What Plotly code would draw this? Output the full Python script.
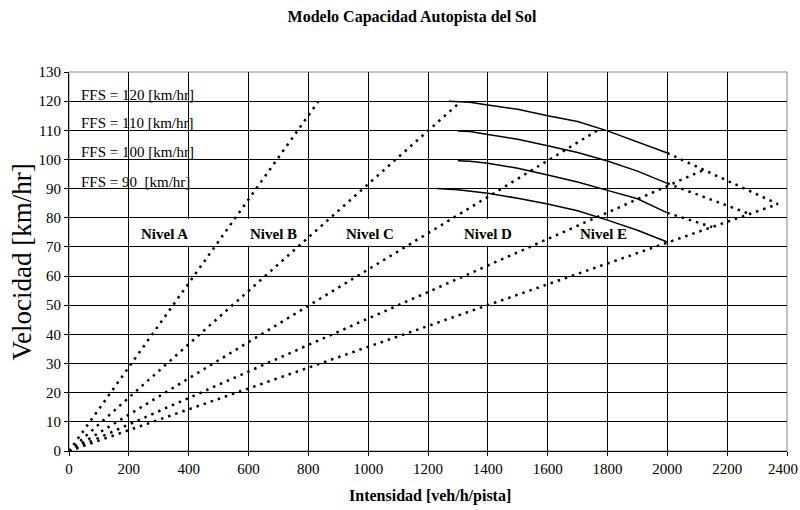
import plotly.graph_objects as go

# ---- data ----
ffs120_q = [1270, 1340, 1400, 1500, 1600, 1700, 1800, 1900, 2000]
ffs120_v = [120.0, 119.6, 118.7, 117.2, 115.0, 113.0, 109.8, 106.1, 102.2]
ffs110_q = [1300, 1340, 1400, 1500, 1600, 1700, 1800, 1900, 2000]
ffs110_v = [109.8, 109.6, 108.6, 106.9, 104.7, 102.4, 99.5, 96.0, 91.8]
ffs100_q = [1300, 1340, 1400, 1500, 1600, 1700, 1800, 1900, 2000]
ffs100_v = [99.6, 99.4, 98.7, 97.0, 94.7, 92.3, 89.4, 86.5, 81.7]
ffs90_q = [1230, 1300, 1400, 1500, 1600, 1700, 1800, 1900, 2000]
ffs90_v = [90.0, 89.6, 88.4, 86.7, 84.7, 82.4, 79.2, 75.7, 71.7]

# dotted extensions of the speed-flow curves beyond 2000
ext120_q = [2000, 2370]
ext120_v = [102.2, 84.7]
ext110_q = [2000, 2275]
ext110_v = [91.8, 81.3]
ext100_q = [2000, 2150]
ext100_v = [81.7, 76.8]

# level-of-service boundary lines (from origin)
losA_q = [0, 833]
losA_v = [0, 119.8]
losB_q = [0, 1300]
losB_v = [0, 119.0]
losC_q = [0, 1775]
losC_v = [0, 110.5]
losD_q = [0, 2130]
losD_v = [0, 96.8]
losE_q = [0, 2370]
losE_v = [0, 84.7]

x_tickvals = [0, 200, 400, 600, 800, 1000, 1200, 1400, 1600, 1800, 2000, 2200, 2400]
x_ticktext = ["0", "200", "400", "600", "800", "1000", "1200", "1400", "1600", "1800", "2000", "2200", ""]
last_tick_label = "2400"   # drawn as a separate text, nudged left so it stays inside the page

ffs_labels = ["FFS = 120 [km/hr]", "FFS = 110 [km/hr]", "FFS = 100 [km/hr]", "FFS = 90 \u00a0[km/hr]"]
ffs_label_v = [122.0, 112.4, 102.6, 92.3]
ffs_label_q = 33

nivel_labels = ["Nivel A", "Nivel B", "Nivel C", "Nivel D", "Nivel E"]
nivel_q = [318, 682, 1006, 1402, 1787]
nivel_v = 74.5

SERIF = "Times New Roman, Liberation Serif, DejaVu Serif, serif"

fig = go.Figure()

dot_style = dict(color="black", width=2.5, dash="2.5px,5px")
for q, v in [(losA_q, losA_v), (losB_q, losB_v), (losC_q, losC_v), (losD_q, losD_v),
             (losE_q, losE_v), (ext120_q, ext120_v), (ext110_q, ext110_v), (ext100_q, ext100_v)]:
    fig.add_trace(go.Scatter(x=q, y=v, mode="lines", line=dot_style, showlegend=False, hoverinfo="skip"))

for q, v in [(ffs120_q, ffs120_v), (ffs110_q, ffs110_v), (ffs100_q, ffs100_v), (ffs90_q, ffs90_v)]:
    fig.add_trace(go.Scatter(x=q, y=v, mode="lines", line=dict(color="black", width=1.5),
                             showlegend=False, hoverinfo="skip"))

annotations = []
shapes = [dict(type="rect", xref="paper", yref="paper", x0=0, x1=1, y0=0, y1=1,
               line=dict(color="#888888", width=1), layer="below")]
for txt, v in zip(ffs_labels, ffs_label_v):
    annotations.append(dict(x=ffs_label_q, y=v, xref="x", yref="y", text=txt, showarrow=False,
                            xanchor="left", yanchor="middle",
                            font=dict(family=SERIF, size=15, color="black")))
for txt, q in zip(nivel_labels, nivel_q):
    annotations.append(dict(x=q, y=nivel_v, xref="x", yref="y", text="<b>%s</b>" % txt, showarrow=False,
                            xanchor="center", yanchor="middle",
                            font=dict(family=SERIF, size=15, color="black")))
    # white text-box background hiding the grid (drawn between grid and traces)
    shapes.append(dict(type="rect", xref="x", yref="y", x0=q - 100, x1=q + 100, y0=70.4, y1=79.6,
                       fillcolor="white", line=dict(width=0), layer="between"))
annotations.append(dict(x=0.9944, y=-0.048, xref="paper", yref="paper", text=last_tick_label,
                        showarrow=False, xanchor="center", yanchor="middle",
                        font=dict(family=SERIF, size=15, color="black")))
annotations.append(dict(x=-0.0655, y=0.5, xref="paper", yref="paper", text="Velocidad [km/hr]",
                        showarrow=False, textangle=-90, xanchor="center", yanchor="middle",
                        font=dict(family=SERIF, size=27, color="black")))
annotations.append(dict(x=0.503, y=-0.1195, xref="paper", yref="paper", text="<b>Intensidad [veh/h/pista]</b>",
                        showarrow=False, xanchor="center", yanchor="middle",
                        font=dict(family=SERIF, size=16, color="black")))

fig.update_layout(
    width=800, height=510,
    margin=dict(l=69, r=13, t=72, b=59, autoexpand=False),
    paper_bgcolor="white", plot_bgcolor="white",
    font=dict(family=SERIF, color="black"),
    title=dict(text="<b>Modelo Capacidad Autopista del Sol</b>", x=0.515, xanchor="center",
               y=0.967, yanchor="middle", font=dict(family=SERIF, size=16, color="black")),
    annotations=annotations,
    shapes=shapes,
)
fig.update_xaxes(range=[0, 2400], tickmode="array", tickvals=x_tickvals, ticktext=x_ticktext,
                 showgrid=True, gridcolor="black", gridwidth=1,
                 showline=True, linecolor="black", linewidth=1, ticks="outside", ticklen=4,
                 tickcolor="black", zeroline=False, automargin=False,
                 tickfont=dict(family=SERIF, size=15, color="black"))
fig.update_yaxes(range=[0, 130], dtick=10, tick0=0, showgrid=True, gridcolor="black", gridwidth=1,
                 showline=True, linecolor="black", linewidth=1, ticks="outside", ticklen=4,
                 tickcolor="black", zeroline=False, automargin=False,
                 tickfont=dict(family=SERIF, size=15, color="black"))

fig.write_html("out.html")
